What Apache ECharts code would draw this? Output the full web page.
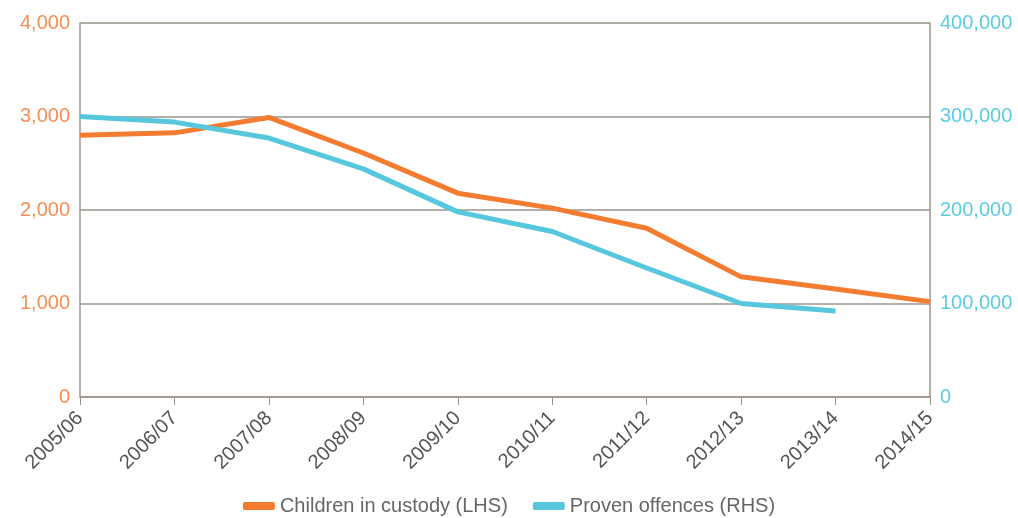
<!DOCTYPE html>
<html>
<head>
<meta charset="utf-8">
<script src="https://cdn.jsdelivr.net/npm/echarts@6/dist/echarts.min.js"></script>
<style>
  html, body { margin: 0; padding: 0; background: #fff; }
  #main { width: 1018px; height: 518px; }
</style>
</head>
<body>
<div id="main"></div>
<script>
// years on the x axis
var years = ['2005/06', '2006/07', '2007/08', '2008/09', '2009/10',
  '2010/11', '2011/12', '2012/13', '2013/14', '2014/15'];
// children in custody (left axis)
var custody = [2800, 2825, 2990, 2610, 2180, 2020, 1805, 1285, 1155, 1020];
// proven offences (right axis), no value for 2014/15
var offences = [300000, 294000, 277000, 244000, 198000, 177000, 138000, 100000, 92000, null];

var orange = '#f47c30';
var blue = '#57c7dd';
var gray = '#9d948c';
var fontName = 'Liberation Sans, Helvetica, Arial, sans-serif';

var chart = echarts.init(document.getElementById('main'));
var option = {
  animation: false,
  grid: { left: 80, right: 88, top: 23, bottom: 121 },
  legend: {
    top: 491,
    left: 'center',
    padding: 5,
    icon: 'roundRect',
    itemWidth: 32,
    itemHeight: 8,
    itemGap: 25,
    textStyle: { color: '#666', fontSize: 20, fontFamily: fontName },
    data: ['Children in custody (LHS)', 'Proven offences (RHS)']
  },
  xAxis: {
    type: 'category',
    boundaryGap: false,
    data: years,
    axisLine: { lineStyle: { color: gray, width: 1.5 } },
    axisTick: { show: true, length: 8, lineStyle: { color: gray } },
    axisLabel: { rotate: 45, color: '#555', fontSize: 20, fontFamily: fontName, margin: 18, interval: 0 }
  },
  yAxis: [
    {
      type: 'value', min: 0, max: 4000, interval: 1000,
      axisLine: { show: true, lineStyle: { color: gray, width: 1.5 } },
      axisTick: { show: false },
      splitLine: { lineStyle: { color: gray, width: 1.5 } },
      axisLabel: {
        color: '#f68e52', fontSize: 20, fontFamily: fontName, margin: 10,
        formatter: function (v) { return v.toLocaleString('en-US'); }
      }
    },
    {
      type: 'value', min: 0, max: 400000, interval: 100000, position: 'right',
      axisLine: { show: true, lineStyle: { color: gray, width: 1.5 } },
      axisTick: { show: false },
      splitLine: { show: false },
      axisLabel: {
        color: '#5ccbe2', fontSize: 20, fontFamily: fontName, margin: 10,
        formatter: function (v) { return v.toLocaleString('en-US'); }
      }
    }
  ],
  series: [
    {
      name: 'Children in custody (LHS)',
      type: 'line',
      yAxisIndex: 0,
      data: custody,
      symbol: 'none',
      itemStyle: { color: orange },
      lineStyle: { color: orange, width: 5 }
    },
    {
      name: 'Proven offences (RHS)',
      type: 'line',
      yAxisIndex: 1,
      data: offences,
      symbol: 'none',
      itemStyle: { color: blue },
      lineStyle: { color: blue, width: 5 }
    }
  ]
};
chart.setOption(option);
</script>
</body>
</html>
